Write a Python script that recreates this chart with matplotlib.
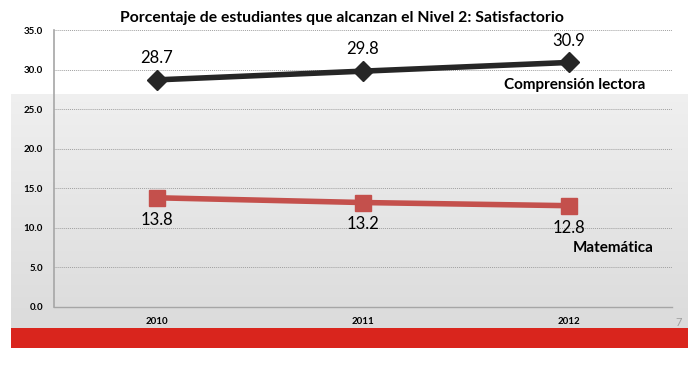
import matplotlib
matplotlib.use("Agg")
import matplotlib.pyplot as plt
import numpy as np

years = ["2010", "2011", "2012"]
lectora = [28.7, 29.8, 30.9]
matematica = [13.8, 13.2, 12.8]
yticks = [0, 5, 10, 15, 20, 25, 30, 35]
title = "Porcentaje de estudiantes que alcanzan el Nivel 2: Satisfactorio"

plt.rcParams['font.family'] = ['Lato', 'DejaVu Sans']

fig = plt.figure(figsize=(7, 3.66), dpi=100)
fig.patch.set_facecolor("white")

# gray gradient band
bg = fig.add_axes([11/700, 1-328/366, 677/700, 234/366], zorder=0)
grad = np.linspace(0.94, 0.86, 256).reshape(-1, 1)
bg.imshow(np.dstack([grad, grad, grad]), aspect="auto", extent=[0, 1, 0, 1])
bg.axis("off")

# red bar
rb = fig.add_axes([11/700, 1-348/366, 677/700, 20/366], zorder=0)
rb.set_facecolor("#d9251d")
rb.set_xticks([]); rb.set_yticks([])
for s in rb.spines.values():
    s.set_visible(False)

ax = fig.add_axes([54/700, 1-307/366, 618/700, 277/366], zorder=1)
ax.patch.set_alpha(0)
x = np.arange(len(years))
ax.plot(x, lectora, color="#262626", lw=4, marker="D", ms=10, zorder=3)
ax.plot(x, matematica, color="#c4504c", lw=4, marker="s", ms=11, zorder=3)

for xi, v in zip(x, lectora):
    ax.annotate(f"{v:.1f}", (xi, v), xytext=(0, 10), textcoords="offset points",
                ha="center", va="bottom", fontsize=12, color="black")
for xi, v in zip(x, matematica):
    ax.annotate(f"{v:.1f}", (xi, v), xytext=(0, -10), textcoords="offset points",
                ha="center", va="top", fontsize=12, color="black")

ax.text(2.37, 28.0, "Comprensión lectora", ha="right", va="center",
        fontsize=11, fontweight="bold")
ax.text(2.41, 7.5, "Matemática", ha="right", va="center",
        fontsize=11, fontweight="bold")

ax.set_xlim(-0.5, 2.5)
ax.set_ylim(0, 35)
ax.set_yticks(yticks)
ax.set_yticklabels([f"{t:.1f}" for t in yticks], fontsize=7, fontweight="bold")
ax.set_xticks(x)
ax.set_xticklabels(years, fontsize=7, fontweight="bold")
ax.tick_params(length=0, pad=8)
ax.tick_params(axis="x", pad=7)
ax.grid(axis="y", color="#a0a0a0", linestyle=(0, (1, 1)), lw=0.7)
ax.set_axisbelow(True)
for s in ["top", "right"]:
    ax.spines[s].set_visible(False)
ax.spines["left"].set_color("#a6a6a6")
ax.spines["bottom"].set_color("#a6a6a6")
ax.spines["left"].set_linewidth(1.2)
ax.spines["bottom"].set_linewidth(1.0)

fig.text(342/700, 1-18/366, title, ha="center", va="center",
         fontsize=11.3, fontweight="bold")
fig.text(679/700, 1-322/366, "7", ha="center", va="center",
         fontsize=8, color="#a0a0a0")

fig.savefig("out.png", dpi=100)
